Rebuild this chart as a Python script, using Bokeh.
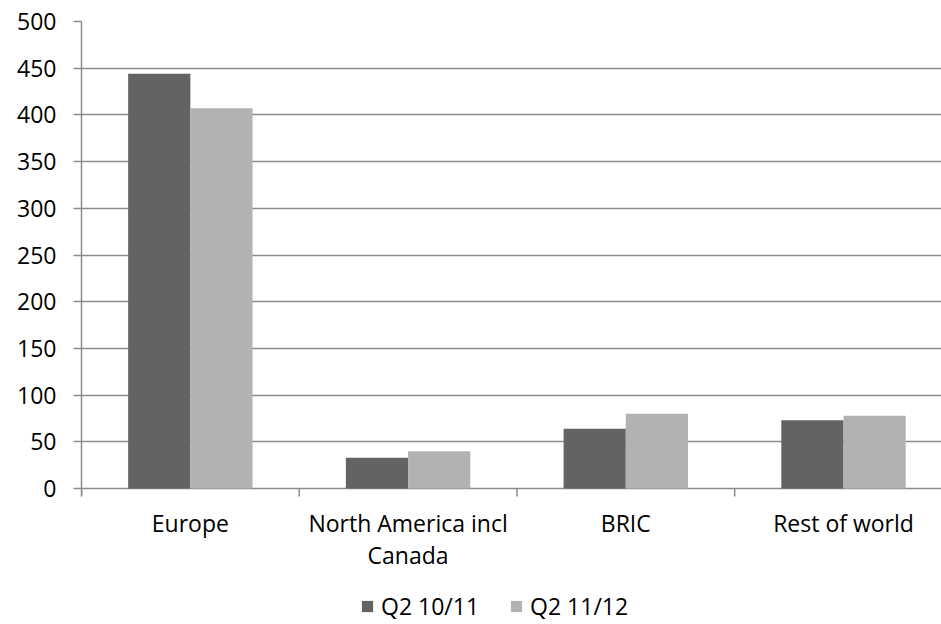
import numpy as np
from bokeh.plotting import figure
from bokeh.models import Range1d, SingleIntervalTicker, Legend, LegendItem
from bokeh.core.properties import value
from bokeh.embed import file_html
from bokeh.resources import INLINE

# Regions and quarterly values
categories = ["Europe", "North America incl\nCanada", "BRIC", "Rest of world"]
series_names = ["Q2 10/11", "Q2 11/12"]
q2_1011 = [444, 33, 64, 73]
q2_1112 = [407, 40, 80, 78]

FONT = "Open Sans"
FONT_SIZE = "23px"
GRID = "#8c8c8c"
DARK = "#636363"
LIGHT = "#b2b2b2"

# layout: value axis spans 467 px, with 136 px of room below zero for
# the category names and the legend
W, H = 941, 624
TOP, LEFT = 21, 81
PLOT_H = 467
Y_MAX = 500
px = PLOT_H / Y_MAX               # pixels per unit
y_floor = -(H - TOP - PLOT_H) / px
tick_len = 8 / px                 # 8 px tick marks, in data units

n = len(categories)
centers = np.arange(n) + 0.5
edges = np.arange(n + 1)
bar_w = 1 / 3.5  # two bars plus a 150% gap per category

p = figure(width=W, height=H, output_backend="svg", toolbar_location=None,
           x_range=Range1d(0, 3.95), y_range=Range1d(y_floor, Y_MAX),
           x_axis_type=None,
           min_border_left=LEFT, min_border_right=0,
           min_border_top=TOP, min_border_bottom=0)
p.outline_line_color = None
p.background_fill_color = "white"
p.border_fill_color = "white"

r1 = p.vbar(x=centers - bar_w / 2, top=q2_1011, width=bar_w,
            fill_color=DARK, line_color=None)
r2 = p.vbar(x=centers + bar_w / 2, top=q2_1112, width=bar_w,
            fill_color=LIGHT, line_color=None)

# y axis and horizontal gridlines (the zero line doubles as the x axis)
yax = p.yaxis[0]
yax.ticker = SingleIntervalTicker(interval=50)
yax.bounds = (-tick_len, Y_MAX)
yax.axis_line_color = GRID
yax.axis_line_width = 1.5
yax.major_tick_line_color = GRID
yax.major_tick_line_width = 1.5
yax.major_tick_out = 8
yax.major_tick_in = 0
yax.minor_tick_line_color = None
yax.major_label_standoff = 17
yax.major_label_text_font = FONT
yax.major_label_text_font_size = FONT_SIZE
yax.major_label_text_color = "black"

p.ygrid.grid_line_color = GRID
p.ygrid.grid_line_width = 1.5
p.xgrid.grid_line_color = None

# tick marks between category groups
p.segment(x0=edges, y0=np.zeros(n + 1), x1=edges, y1=np.full(n + 1, -tick_len),
          line_color=GRID, line_width=1.5)

# category names under each group
p.text(x=centers, y=np.zeros(n), text=categories,
       y_offset=18, text_align="center", text_baseline="top",
       text_font=value(FONT), text_font_size=value(FONT_SIZE),
       text_color="black", text_line_height=1.02)

legend = Legend(items=[LegendItem(label=series_names[0], renderers=[r1]),
                       LegendItem(label=series_names[1], renderers=[r2])],
                orientation="horizontal", location=(279, 2),
                glyph_width=14, glyph_height=14, spacing=30,
                label_standoff=7, padding=0, margin=0,
                border_line_color=None, background_fill_alpha=0,
                label_text_font=FONT, label_text_font_size=FONT_SIZE,
                label_text_color="black")
p.add_layout(legend, "center")

open("out.html", "w").write(file_html(p, INLINE))
